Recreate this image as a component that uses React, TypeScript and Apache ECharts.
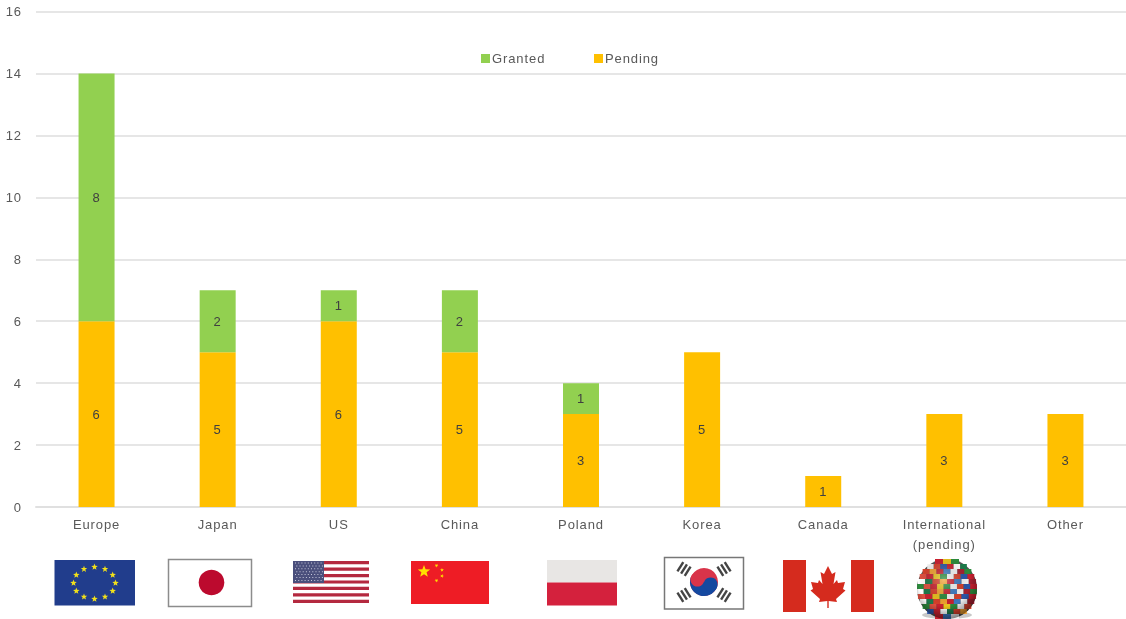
import React, { useEffect, useRef } from "react";
import * as echarts from "echarts";

const categories = ["Europe", "Japan", "US", "China", "Poland", "Korea", "Canada", "International\n(pending)", "Other"];
const pending = [6, 5, 6, 5, 3, 5, 1, 3, 3];
const granted = [8, 2, 1, 2, 1, null, null, null, null];
const yTicks = { min: 0, max: 16, interval: 2 };

const FONT = '"Liberation Sans", Arial, sans-serif';

function starPoints(cx: number, cy: number, r: number, rot = -Math.PI / 2) {
  const pts: number[][] = [];
  for (let i = 0; i < 10; i++) {
    const rad = i % 2 === 0 ? r : r * 0.42;
    const a = rot + (i * Math.PI) / 5;
    pts.push([cx + rad * Math.cos(a), cy + rad * Math.sin(a)]);
  }
  return pts;
}
const star = (cx: number, cy: number, r: number, fill: string, rot?: number) => ({
  type: "polygon",
  shape: { points: starPoints(cx, cy, r, rot) },
  style: { fill },
  silent: true,
});
const rect = (x: number, y: number, width: number, height: number, fill: string, extra: any = {}) => ({
  type: "rect",
  shape: { x, y, width, height },
  style: { fill, ...extra },
  silent: true,
});
const circle = (cx: number, cy: number, r: number, fill: any) => ({
  type: "circle",
  shape: { cx, cy, r },
  style: { fill },
  silent: true,
});

function euFlag() {
  const els: any[] = [rect(54.5, 560, 80.5, 45.5, "#213d8c")];
  for (let i = 0; i < 12; i++) {
    const a = (i * Math.PI) / 6 - Math.PI / 2;
    els.push(star(94.5 + 21 * Math.cos(a), 583 + 16 * Math.sin(a), 3.4, "#f2e11a"));
  }
  return els;
}
function japanFlag() {
  return [
    rect(168.5, 559.5, 83, 47, "#ffffff", { stroke: "#8c8c8c", lineWidth: 1.5 }),
    circle(211.5, 582.5, 12.8, "#bc0a2e"),
  ];
}
function usFlag() {
  const els: any[] = [rect(293, 561, 76, 42, "#ffffff")];
  const h = 42 / 13;
  for (let i = 0; i < 13; i += 2) els.push(rect(293, 561 + i * h, 76, h, "#b4293f"));
  els.push(rect(293, 561, 31, 22, "#4a4f7c"));
  for (let r = 0; r < 7; r++) {
    for (let c = 0; c < 9; c++) {
      els.push(rect(295 + c * 3.2 + (r % 2) * 1.3, 562.5 + r * 2.9, 1, 1, "#c6c8da"));
    }
  }
  return els;
}
function chinaFlag() {
  return [
    rect(411, 561, 78, 43, "#ee1c25"),
    star(424, 571.5, 6.5, "#ffe000"),
    star(436.5, 565.5, 2, "#ffe000", 0.3),
    star(442, 570, 2, "#ffe000", 0.9),
    star(442, 576, 2, "#ffe000", 0),
    star(436.5, 580.5, 2, "#ffe000", 0.4),
  ];
}
function polandFlag() {
  return [rect(547, 560, 70, 22.5, "#e8e6e4"), rect(547, 582.5, 70, 23, "#d4213d")];
}
function koreaFlag() {
  const cx = 704;
  const cy = 582;
  const trigram = (dx: number, dy: number, deg: number) => ({
    type: "group",
    x: cx + dx,
    y: cy + dy,
    rotation: (deg * Math.PI) / 180,
    silent: true,
    children: [
      rect(-5.5, -5.5, 11, 2.4, "#444444"),
      rect(-5.5, -1.2, 11, 2.4, "#444444"),
      rect(-5.5, 3.1, 11, 2.4, "#444444"),
    ],
  });
  return [
    rect(664.5, 557.5, 79, 51.5, "#ffffff", { stroke: "#777777", lineWidth: 1.5 }),
    circle(cx, cy, 14, "#d9344a"),
    {
      type: "sector",
      shape: { cx, cy, r: 14, r0: 0, startAngle: 0.35, endAngle: Math.PI + 0.35, clockwise: true },
      style: { fill: "#1449a0" },
      silent: true,
    },
    circle(cx - 6.6, cy - 2.4, 7, "#d9344a"),
    circle(cx + 6.6, cy + 2.4, 7, "#1449a0"),
    trigram(-20, -13, 58),
    trigram(20, -13, -58),
    trigram(-20, 13, -58),
    trigram(20, 13, 58),
  ];
}
function canadaFlag() {
  const x = 828;
  const leaf = [
    [0, -21], [-4, -13], [-7.5, -15], [-5.5, -3], [-9, -7], [-10, -4], [-17, -5], [-15, 2], [-17.5, 3.5],
    [-8, 12], [-9, 15], [-0.7, 14], [-0.7, 21], [0.7, 21], [0.7, 14], [9, 15], [8, 12], [17.5, 3.5],
    [15, 2], [17, -5], [10, -4], [9, -7], [5.5, -3], [7.5, -15], [4, -13],
  ].map(([a, b]) => [x + a, 587 + b]);
  return [
    rect(783, 560, 91, 52, "#ffffff"),
    rect(783, 560, 23, 52, "#d52b1e"),
    rect(851, 560, 23, 52, "#d52b1e"),
    { type: "polygon", shape: { points: leaf }, style: { fill: "#d52b1e" }, silent: true },
  ];
}
function globe() {
  const cx = 947;
  const cy = 589;
  const r = 30;
  const palette = [
    "#c8202f", "#e8c21c", "#2c8a3c", "#f2f2f2", "#d6402a", "#2a55a8", "#c8202f", "#ffffff",
    "#1d7a4a", "#d6402a", "#f0a030", "#c8202f", "#3c78c0", "#f2f2f2", "#a52030", "#2c8a3c", "#e05040",
  ];
  const els: any[] = [
    {
      type: "ellipse",
      shape: { cx, cy: 615, rx: 25, ry: 4 },
      style: { fill: "#c8c8c8" },
      silent: true,
    },
    circle(cx, cy, r, "#555555"),
  ];
  let k = 0;
  const rowH = 5;
  for (let y = cy - r; y < cy + r; y += rowH) {
    const mid = y + rowH / 2;
    const half = Math.sqrt(Math.max(0, r * r - (mid - cy) * (mid - cy)));
    const n = Math.max(1, Math.round((2 * half) / 7));
    const w = (2 * half) / n;
    for (let i = 0; i < n; i++) {
      els.push(rect(cx - half + i * w, y, w, rowH, palette[k % palette.length]));
      k++;
    }
  }
  els.push({
    type: "circle",
    shape: { cx, cy, r },
    style: {
      fill: {
        type: "radial",
        x: 0.45,
        y: 0.35,
        r: 0.72,
        colorStops: [
          { offset: 0, color: "rgba(255,255,255,0.3)" },
          { offset: 0.6, color: "rgba(0,0,0,0)" },
          { offset: 1, color: "rgba(0,0,0,0.6)" },
        ],
      },
    },
    silent: true,
  });
  return els;
}

export default function App() {
  const ref = useRef<HTMLDivElement>(null);
  useEffect(() => {
    document.body.style.margin = "0";
    const chart = echarts.init(ref.current!, null, { renderer: "svg" });
    const label = {
      show: true,
      position: "inside" as const,
      color: "#404040",
      fontSize: 13,
      fontFamily: FONT,
    };
    chart.setOption({
      animation: false,
      backgroundColor: "#ffffff",
      textStyle: { fontFamily: FONT },
      grid: { left: 36, right: 0, top: 11.5, bottom: 112, containLabel: false },
      legend: {
        left: 476,
        top: 47,
        itemWidth: 9,
        itemHeight: 9,
        itemGap: 55,
        icon: "rect",
        selectedMode: false,
        data: ["Granted", "Pending"],
        textStyle: { color: "#595959", fontSize: 13, fontFamily: FONT, padding: [0, 0, 0, -3] },
      },
      xAxis: {
        type: "category",
        data: categories,
        axisTick: { show: false },
        axisLine: { lineStyle: { color: "#e0e0e0", width: 2 } },
        axisLabel: {
          color: "#595959",
          fontSize: 13,
          fontFamily: FONT,
          margin: 7,
          lineHeight: 20,
          interval: 0,
        },
      },
      yAxis: {
        type: "value",
        ...yTicks,
        axisLine: { show: false },
        axisTick: { show: false },
        axisLabel: { color: "#595959", fontSize: 13, fontFamily: FONT, margin: 14 },
        splitLine: { lineStyle: { color: "#e6e6e6", width: 2 } },
      },
      series: [
        {
          name: "Pending",
          type: "bar",
          stack: "total",
          data: pending,
          barWidth: 36,
          itemStyle: { color: "#ffc000" },
          label,
        },
        {
          name: "Granted",
          type: "bar",
          stack: "total",
          data: granted,
          barWidth: 36,
          itemStyle: { color: "#92d050" },
          label,
        },
      ],
      graphic: {
        elements: [
          ...euFlag(),
          ...japanFlag(),
          ...usFlag(),
          ...chinaFlag(),
          ...polandFlag(),
          ...koreaFlag(),
          ...canadaFlag(),
          ...globe(),
        ],
      },
    });
    return () => chart.dispose();
  }, []);
  return (
    <div
      ref={ref}
      style={{
        position: "absolute",
        left: 0,
        top: 0,
        width: 1126,
        height: 619,
        filter: "blur(0.5px)",
        letterSpacing: "0.9px",
      }}
    />
  );
}
